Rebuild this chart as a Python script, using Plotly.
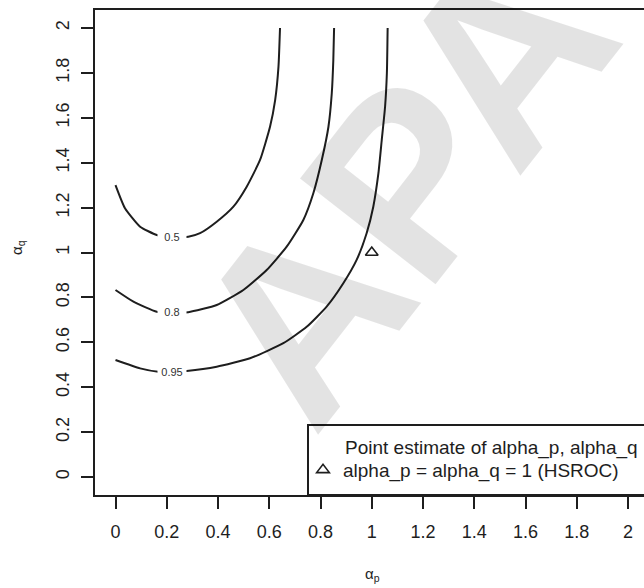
import plotly.graph_objects as go

# ---- data ----
tick_vals = [0, 0.2, 0.4, 0.6, 0.8, 1.0, 1.2, 1.4, 1.6, 1.8, 2.0]
tick_text = ["0", "0.2", "0.4", "0.6", "0.8", "1", "1.2", "1.4", "1.6", "1.8", "2"]

c50_x = [0.0, 0.037, 0.096, 0.161, 0.222, 0.284, 0.330, 0.395, 0.460, 0.512, 0.564, 0.603, 0.623, 0.636, 0.642]
c50_y = [1.30, 1.197, 1.115, 1.078, 1.068, 1.070, 1.086, 1.137, 1.204, 1.293, 1.412, 1.560, 1.679, 1.828, 2.0]

c80_x = [0.0, 0.070, 0.161, 0.222, 0.284, 0.395, 0.499, 0.590, 0.668, 0.733, 0.772, 0.805, 0.831, 0.844, 0.850, 0.853]
c80_y = [0.833, 0.781, 0.736, 0.731, 0.734, 0.766, 0.833, 0.922, 1.026, 1.145, 1.264, 1.412, 1.560, 1.709, 1.857, 2.0]

c95_x = [0.0, 0.096, 0.167, 0.222, 0.278, 0.395, 0.525, 0.655, 0.746, 0.824, 0.889, 0.941, 0.980, 1.006, 1.026, 1.039, 1.052, 1.059, 1.062]
c95_y = [0.521, 0.484, 0.469, 0.468, 0.472, 0.491, 0.529, 0.596, 0.669, 0.759, 0.863, 0.967, 1.086, 1.204, 1.353, 1.501, 1.649, 1.798, 2.0]

contour_levels = ["0.5", "0.8", "0.95"]
label_x = [0.222, 0.222, 0.222]
label_y = [1.070, 0.733, 0.469]

point_x = [1.0]
point_y = [1.0]

legend_labels = ["Point estimate of alpha_p, alpha_q", "alpha_p = alpha_q = 1 (HSROC)"]

FONT = "Liberation Sans, Arial, Helvetica, sans-serif"
INK = "#1e1e1e"

# pixel helpers for paper-positioned decorations (plot area: x 95..644, y 10..495)
def px(x):
    return (x - 95) / 549

def py(y):
    return (495 - y) / 485

fig = go.Figure()

for cx, cy in [(c50_x, c50_y), (c80_x, c80_y), (c95_x, c95_y)]:
    fig.add_trace(go.Scatter(x=cx, y=cy, mode="lines",
                             line=dict(color=INK, width=2, shape="spline", smoothing=0.5),
                             showlegend=False, hoverinfo="skip"))

fig.add_trace(go.Scatter(x=point_x, y=point_y, mode="markers", name=legend_labels[1],
                         marker=dict(symbol="triangle-up-open", size=11, color=INK,
                                     line=dict(width=1.6, color=INK)),
                         showlegend=True))

annotations = []
# watermark
annotations.append(dict(xref="paper", yref="paper", x=px(402), y=py(186),
                        xanchor="center", yanchor="middle",
                        text="<b>APA</b>", showarrow=False, textangle=-52,
                        font=dict(family=FONT, size=250, color="rgba(0,0,0,0.11)")))
for lab, lx, ly in zip(contour_levels, label_x, label_y):
    annotations.append(dict(x=lx, y=ly, xref="x", yref="y", text=lab, showarrow=False,
                            xanchor="center", yanchor="middle",
                            font=dict(family=FONT, size=11, color="#333"),
                            bgcolor="white", width=26, borderpad=1))
# legend header line (no symbol)
annotations.append(dict(xref="paper", yref="paper", x=px(343), y=py(448),
                        xanchor="left", yanchor="middle", text=legend_labels[0],
                        showarrow=False, font=dict(family=FONT, size=19, color=INK)))
# axis titles
annotations.append(dict(xref="paper", yref="paper", x=px(372), y=py(574),
                        xanchor="center", yanchor="middle",
                        text="α<sub>p</sub>", showarrow=False,
                        font=dict(family=FONT, size=15, color=INK)))
annotations.append(dict(xref="paper", yref="paper", x=px(17), y=py(248),
                        xanchor="center", yanchor="middle",
                        text="α<sub>q</sub>", showarrow=False, textangle=-90,
                        font=dict(family=FONT, size=15, color=INK)))

shapes = [dict(type="rect", xref="paper", yref="paper",
               x0=px(308), x1=1.05, y0=0, y1=py(425),
               line=dict(color=INK, width=2), fillcolor="white", layer="above")]

fig.update_layout(
    width=644, height=588,
    margin=dict(l=95, r=0, t=10, b=93, autoexpand=False),
    paper_bgcolor="white", plot_bgcolor="white",
    font=dict(family=FONT, color=INK),
    showlegend=True,
    legend=dict(x=px(303), xanchor="left", y=py(451), yanchor="top",
                bgcolor="rgba(0,0,0,0)", borderwidth=0,
                font=dict(family=FONT, size=19, color=INK)),
    annotations=annotations,
    shapes=shapes,
    xaxis=dict(range=[-0.08, 2.0624], tickvals=tick_vals, ticktext=tick_text,
               ticks="outside", ticklen=12, tickwidth=1.6, tickcolor=INK,
               showline=True, linewidth=2, linecolor=INK, mirror=True,
               showgrid=False, zeroline=False, tickfont=dict(size=18, family=FONT, color=INK),
               ticklabelstandoff=7, automargin=False),
    yaxis=dict(range=[-0.08, 2.08], tickvals=tick_vals, ticktext=tick_text,
               ticks="outside", ticklen=12, tickwidth=1.6, tickcolor=INK, tickangle=-90,
               showline=True, linewidth=2, linecolor=INK, mirror=False,
               showgrid=False, zeroline=False, tickfont=dict(size=18, family=FONT, color=INK),
               ticklabelstandoff=5, automargin=False),
)

fig.write_html("out.html", config={"displayModeBar": False},
               post_script="document.body.style.margin='0px';")
